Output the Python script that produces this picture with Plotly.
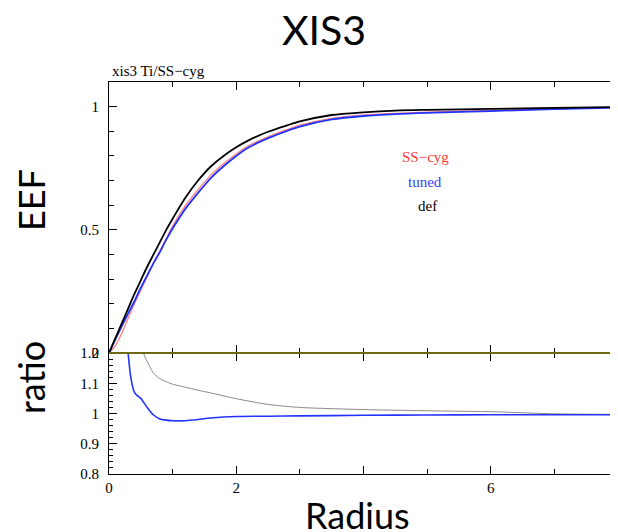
import plotly.graph_objects as go

# ---- data ----
radius = [0, 0.1, 0.2, 0.3, 0.4, 0.5, 0.6, 0.7, 0.8, 0.9, 1.0, 1.2, 1.4, 1.6, 1.8,
          2.0, 2.2, 2.5, 2.8, 3.0, 3.5, 4.0, 4.5, 5.0, 6.0, 7.0, 8.0]
eef_sscyg = [0, 0.03, 0.08, 0.14, 0.20, 0.255, 0.31, 0.365, 0.415, 0.465, 0.515,
             0.598, 0.663, 0.722, 0.768, 0.808, 0.842, 0.878, 0.907, 0.925, 0.953,
             0.966, 0.973, 0.978, 0.985, 0.992, 0.997]
eef_tuned = [0, 0.055, 0.108, 0.16, 0.21, 0.265, 0.315, 0.365, 0.41, 0.46, 0.505,
             0.585, 0.65, 0.71, 0.758, 0.80, 0.835, 0.872, 0.902, 0.919, 0.948,
             0.962, 0.97, 0.975, 0.982, 0.99, 0.996]
eef_def = [0, 0.06, 0.12, 0.18, 0.24, 0.295, 0.35, 0.40, 0.45, 0.50, 0.545,
           0.63, 0.70, 0.757, 0.80, 0.835, 0.864, 0.898, 0.924, 0.94, 0.966,
           0.977, 0.984, 0.987, 0.991, 0.995, 0.998]

ratio_r_tuned = [0.25, 0.3, 0.35, 0.4, 0.45, 0.5, 0.6, 0.7, 0.8, 0.9, 1.0, 1.2, 1.4,
                 1.6, 2.0, 2.5, 3.0, 4.0, 5.0, 6.0, 7.0, 8.0]
ratio_tuned = [1.35, 1.2, 1.11, 1.07, 1.058, 1.05, 1.02, 0.995, 0.982, 0.978, 0.976,
               0.976, 0.98, 0.985, 0.99, 0.991, 0.992, 0.994, 0.995, 0.996, 0.996, 0.996]
ratio_r_def = [0.45, 0.5, 0.54, 0.6, 0.7, 0.8, 0.9, 1.0, 1.2, 1.4, 1.6, 2.0, 2.5,
               3.0, 4.0, 5.0, 6.0, 7.0, 8.0]
ratio_def = [1.3, 1.23, 1.2, 1.172, 1.133, 1.115, 1.105, 1.097, 1.087, 1.077, 1.068,
             1.049, 1.03, 1.02, 1.013, 1.009, 1.006, 0.999, 0.997]

x_tickvals = [0, 2, 4, 6, 8]
x_ticktext = ["0", "2", "", "6", "8"]
eef_tickvals = [0, 0.5, 1]
eef_ticktext = ["0", "0.5", "1"]
ratio_tickvals = [0.8, 0.9, 1, 1.1, 1.2]
ratio_ticktext = ["0.8", "0.9", "1", "1.1", "1.2"]

# ---- figure ----
OFF = 8  # default page body margin
W, H = 618 - OFF, 532 - OFF
L, R, T = 109 - OFF, 0, 82 - OFF
B = H - (474 - OFF)
plot_h = H - T - B
split = (474 - 353) / plot_h

SM = 0.8
fig = go.Figure()
fig.add_trace(go.Scatter(x=radius, y=eef_sscyg, mode="lines",
                         line=dict(color="#ff7a7a", width=1.2, shape="spline", smoothing=SM),
                         xaxis="x2", yaxis="y2", showlegend=False))
fig.add_trace(go.Scatter(x=radius, y=eef_tuned, mode="lines",
                         line=dict(color="#2233ff", width=1.8, shape="spline", smoothing=SM),
                         xaxis="x2", yaxis="y2", showlegend=False))
fig.add_trace(go.Scatter(x=radius, y=eef_def, mode="lines",
                         line=dict(color="black", width=1.8, shape="spline", smoothing=SM),
                         xaxis="x2", yaxis="y2", showlegend=False))
fig.add_trace(go.Scatter(x=ratio_r_def, y=ratio_def, mode="lines",
                         line=dict(color="#8a8a8a", width=1, shape="spline", smoothing=0.6),
                         xaxis="x", yaxis="y", showlegend=False))
fig.add_trace(go.Scatter(x=ratio_r_tuned, y=ratio_tuned, mode="lines",
                         line=dict(color="#2233ff", width=1.6, shape="spline", smoothing=0.5),
                         xaxis="x", yaxis="y", showlegend=False))

tickfont = dict(family="Liberation Serif", size=15, color="black")
common_x = dict(range=[0, 8], showline=True, linecolor="black", linewidth=1, mirror="allticks",
                ticks="inside", ticklen=8, tickcolor="black", showgrid=False, zeroline=False,
                minor=dict(dtick=1, ticks="inside", ticklen=5, tickcolor="black", showgrid=False),
                tickvals=x_tickvals, ticktext=x_ticktext, tickfont=tickfont)

fig.update_layout(
    width=W, height=H, margin=dict(l=L, r=R, t=T, b=B),
    paper_bgcolor="white", plot_bgcolor="white",
    xaxis=dict(**common_x, anchor="y", domain=[0, 1]),
    xaxis2=dict(**common_x, anchor="y2", domain=[0, 1], matches="x", showticklabels=False),
    yaxis=dict(range=[0.8, 1.2], domain=[0, split], anchor="x", showline=True, linecolor="black",
               linewidth=1, mirror="allticks", ticks="inside", ticklen=8, tickcolor="black",
               showgrid=False, zeroline=False, tickvals=ratio_tickvals, ticktext=ratio_ticktext,
               tickfont=tickfont, ticklabelstandoff=6,
               minor=dict(dtick=0.02, ticks="inside", ticklen=4, tickcolor="black", showgrid=False)),
    yaxis2=dict(range=[0, 1.1], domain=[split, 1], anchor="x2", showline=True, linecolor="black",
                linewidth=1, mirror="allticks", ticks="inside", ticklen=8, tickcolor="black",
                showgrid=False, zeroline=False, tickvals=eef_tickvals, ticktext=eef_ticktext,
                tickfont=tickfont, ticklabelstandoff=6,
                minor=dict(dtick=0.1, ticks="inside", ticklen=5, tickcolor="black", showgrid=False)),
)

# olive separator line between panels
fig.add_shape(type="line", xref="paper", yref="paper", x0=0, x1=1, y0=split, y1=split,
              line=dict(color="#6e6810", width=2))

def px(xs):
    return (xs - OFF - L) / (W - L - R)

def py(ys):
    return (H - B - (ys - OFF)) / plot_h

serif = "Liberation Serif"
sans = "Lato"
ann = [
    dict(text="XIS3", x=px(324), y=py(30), font=dict(family=sans, size=41, color="black")),
    dict(text="xis3 Ti/SS\u2212cyg", x=px(110), y=py(71), xanchor="left",
         font=dict(family=serif, size=15, color="black")),
    dict(text="EEF", x=px(31), y=py(200), textangle=-90, font=dict(family=sans, size=36, color="black")),
    dict(text="ratio", x=px(31), y=py(378), textangle=-90, font=dict(family=sans, size=36, color="black")),
    dict(text="Radius", x=px(357), y=py(515), font=dict(family=sans, size=36, color="black")),
    dict(text="SS\u2212cyg", x=px(425), y=py(157), font=dict(family=serif, size=15, color="#ff3838")),
    dict(text="tuned", x=px(425), y=py(182), font=dict(family=serif, size=15, color="#3344ff")),
    dict(text="def", x=px(427), y=py(206), font=dict(family=serif, size=15, color="black")),
]
for a in ann:
    a.setdefault("xanchor", "center")
    fig.add_annotation(xref="paper", yref="paper", showarrow=False, yanchor="middle", **a)

fig.write_html("out.html")
